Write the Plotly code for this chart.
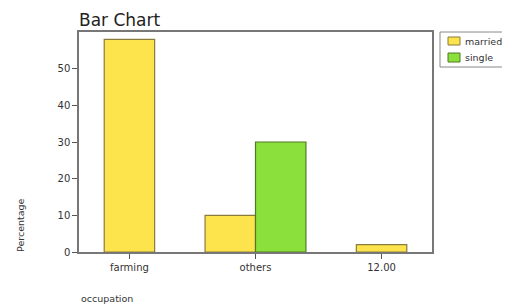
import plotly.graph_objects as go

categories = ["farming", "others", "12.00"]
married = [58, 10, 2]
single = [None, 30, None]
series_names = ["married", "single"]
series_values = [married, single]
fills = ["#FDE44C", "#8BE03C"]
edges = ["#8A7B3C", "#4E7A22"]
y_ticks = [0, 10, 20, 30, 40, 50]

# page body has an 8px margin -> compensate so the plot lands where intended
W, H = 520, 297
L, R, T, B = 71, 96, 24, 53
PW, PH = W - L - R, H - T - B

def px(x):  # window pixel x -> paper
    return (x - 8 - L) / PW

def py(y):  # window pixel y -> paper
    return (H - B - (y - 8)) / PH

bar_w = 0.4
fig = go.Figure()
offsets = {}
for ci, cat in enumerate(categories):
    present = [si for si, vals in enumerate(series_values) if vals[ci] is not None]
    n = len(present)
    for k, si in enumerate(present):
        offsets[(si, ci)] = -n * bar_w / 2 + k * bar_w

for si, (name, vals) in enumerate(zip(series_names, series_values)):
    xs, ys, offs = [], [], []
    for ci, cat in enumerate(categories):
        if vals[ci] is None:
            continue
        xs.append(cat)
        ys.append(vals[ci])
        offs.append(offsets[(si, ci)])
    fig.add_trace(go.Bar(
        x=xs, y=ys, name=name, offset=offs, width=bar_w, showlegend=False,
        marker=dict(color=fills[si], line=dict(color=edges[si], width=1.2)),
    ))

fig.update_layout(
    width=W, height=H,
    margin=dict(l=L, r=R, t=T, b=B, autoexpand=False),
    paper_bgcolor="white", plot_bgcolor="white",
    barmode="overlay",
    font=dict(family="DejaVu Sans", size=10, color="#333333"),
    showlegend=False,
)
fig.update_xaxes(
    type="category", range=[-0.4, 2.4],
    showline=True, linecolor="#777777", linewidth=1.5, mirror=True,
    ticks="outside", ticklen=5, tickcolor="#555555",
    showgrid=False, tickfont=dict(size=10, color="#333333"),
)
fig.update_yaxes(
    range=[0, 60], tickvals=y_ticks,
    showline=True, linecolor="#777777", linewidth=1.5, mirror=True,
    ticks="outside", ticklen=5, tickcolor="#555555",
    showgrid=False, zeroline=False, tickfont=dict(size=10, color="#333333"),
)

# legend box (custom, to match the compact original legend)
fig.add_shape(type="rect", xref="paper", yref="paper",
              x0=px(440), x1=px(530), y0=py(67), y1=py(32),
              line=dict(color="#888888", width=1), fillcolor="white")
legend_rows = [(37, 45), (53, 62)]
for si, name in enumerate(series_names):
    y0, y1 = legend_rows[si]
    fig.add_shape(type="rect", xref="paper", yref="paper",
                  x0=px(448), x1=px(460), y0=py(y1), y1=py(y0),
                  line=dict(color=edges[si], width=1), fillcolor=fills[si])
    fig.add_annotation(text=name, xref="paper", yref="paper",
                       x=px(463), y=py((y0 + y1) / 2), xanchor="left",
                       yanchor="middle", showarrow=False,
                       font=dict(size=9.5, color="#333333"))

fig.add_annotation(text="Bar Chart", xref="paper", yref="paper", x=0, y=1,
                   xanchor="left", yanchor="bottom", yshift=0, xshift=-2,
                   showarrow=False, font=dict(size=17, color="#222222"))
fig.add_annotation(text="Percentage", xref="paper", yref="paper",
                   x=px(20), y=py(225), xanchor="center", yanchor="middle",
                   textangle=-90, showarrow=False,
                   font=dict(size=9.5, color="#333333"))
fig.add_annotation(text="occupation", xref="paper", yref="paper",
                   x=px(79), y=py(298), xanchor="left", yanchor="middle",
                   showarrow=False, font=dict(size=9.5, color="#333333"))

fig.write_html("out.html")
